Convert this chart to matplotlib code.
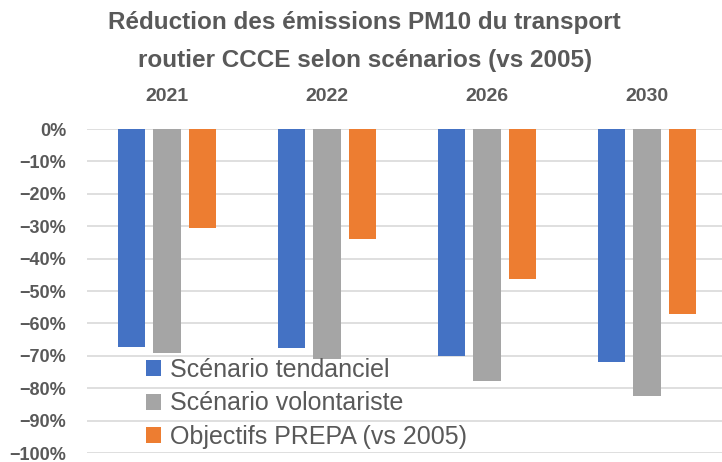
import numpy as np
import matplotlib.pyplot as plt
from matplotlib.ticker import PercentFormatter

plt.rcParams['font.family'] = ['Liberation Sans', 'DejaVu Sans']

TXT = '#595959'

years = ['2021', '2022', '2026', '2030']
series = ['Scénario tendanciel', 'Scénario volontariste', 'Objectifs PREPA (vs 2005)']
tendanciel = [-67.2, -67.6, -70.1, -72.0]
volontariste = [-69.0, -70.9, -77.7, -82.5]
prepa = [-30.5, -34.0, -46.4, -57.1]
colors = ['#4472C4', '#A5A5A5', '#ED7D31']

fig = plt.figure(figsize=(7.22, 4.62), dpi=100)
# axes spans a bit past the right edge, as in the cropped original
ax = fig.add_axes([87/722, 9/462, 640/722, 324/462])

x = np.arange(len(years))
w = 0.172
step = 0.222
for i, (vals, lab) in enumerate(zip([tendanciel, volontariste, prepa], series)):
    ax.bar(x + (i-1)*step, vals, w, color=colors[i], label=lab, zorder=3)

ax.set_xlim(-0.5, 3.5)
ax.set_ylim(-100, 0)
ax.set_yticks(np.arange(-100, 1, 10))
ax.yaxis.set_major_formatter(PercentFormatter(decimals=0))
ax.grid(axis='y', color='#D9D9D9', linewidth=1.2, zorder=0)
for s in ax.spines.values():
    s.set_visible(False)
ax.tick_params(axis='y', length=0, pad=15, labelcolor=TXT, labelsize=13)
for t in ax.get_yticklabels():
    t.set_fontweight('bold')

ax.xaxis.tick_top()
ax.set_xticks(x)
ax.set_xticklabels(years, fontsize=14, fontweight='bold', color=TXT)
ax.tick_params(axis='x', length=0, pad=17)

fig.text(0.505, 1 - 23/462, 'Réduction des émissions PM10 du transport',
         ha='center', va='center', fontsize=17.5, fontweight='bold', color=TXT)
fig.text(0.505, 1 - 60/462, 'routier CCCE selon scénarios (vs 2005)',
         ha='center', va='center', fontsize=17.5, fontweight='bold', color=TXT)

leg = ax.legend(loc='upper left', bbox_to_anchor=(146/722, 1 - 358/462),
                bbox_transform=fig.transFigure, frameon=False, fontsize=18,
                handlelength=0.6, handleheight=0.6, handletextpad=0.36,
                labelspacing=0.38, borderpad=0, borderaxespad=0)
for t in leg.get_texts():
    t.set_color(TXT)

fig.savefig('out.png', dpi=100)
